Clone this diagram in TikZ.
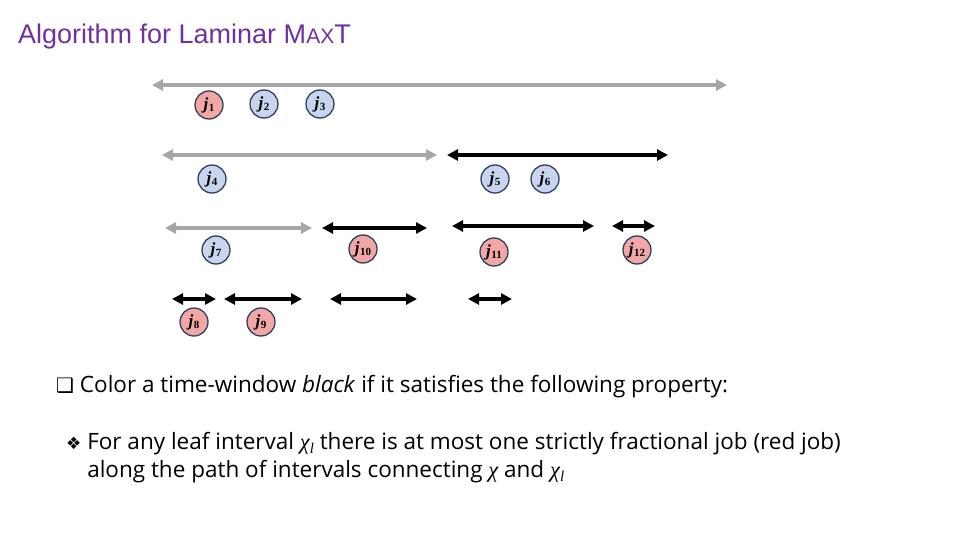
\documentclass[tikz,border=0pt]{standalone}
\usepackage{fontspec}
\setmainfont{Open Sans}
\newfontfamily\titlefont{Liberation Sans}
\newfontfamily\symfont{DejaVu Sans}
\newfontfamily\mfont{Liberation Serif}
\usetikzlibrary{arrows.meta}
\definecolor{ttl}{HTML}{7030A0}
\definecolor{gline}{HTML}{A6A6A6}
\definecolor{jblue}{HTML}{C9D5EE}
\definecolor{jred}{HTML}{F2A6A6}
\definecolor{jedge}{HTML}{2F4060}
\newcommand{\jl}[1]{{\mfont\bfseries\itshape j\kern0.5pt\raisebox{-0.35ex}{\fontsize{11}{11}\selectfont\upshape #1}}}
\newcommand{\chil}[1]{{\mfont\itshape χ\raisebox{-0.35ex}{\fontsize{15}{15}\selectfont #1}}}
\tikzset{
  win/.style={line width=3.5pt,{Triangle[length=11pt,width=11pt]}-{Triangle[length=11pt,width=11pt]}},
  gwin/.style={win,draw=gline},
  bwin/.style={win,draw=black},
  job/.style={circle,draw=jedge,line width=1.3pt,minimum size=28pt,inner sep=0pt,font=\fontsize{17}{17}\selectfont},
  bj/.style={job,fill=jblue},
  rj/.style={job,fill=jred},
  body/.style={anchor=west,font=\fontsize{22.5}{28}\selectfont,inner sep=0pt}
}
\begin{document}
\begin{tikzpicture}[x=1pt,y=-1pt]
\useasboundingbox (0,0) rectangle (960,540);
\node[anchor=west,inner sep=0pt,text=ttl,font=\titlefont\fontsize{27}{27}\selectfont] (title) at (18,37) {Algorithm for Laminar M{\fontsize{21}{21}\selectfont AX}T};
% windows
\coordinate (a1) at (152,85); \coordinate (b1) at (727,85);
\draw[gwin] (a1) -- (b1);
\coordinate (a2) at (162,155); \coordinate (b2) at (437,155);
\draw[gwin] (a2) -- (b2);
\coordinate (a3) at (447,155); \coordinate (b3) at (668,155);
\draw[bwin] (a3) -- (b3);
\coordinate (a4) at (165,228); \coordinate (b4) at (312,228);
\draw[gwin] (a4) -- (b4);
\coordinate (a5) at (322,228); \coordinate (b5) at (427,228);
\draw[bwin] (a5) -- (b5);
\coordinate (a6) at (452,226); \coordinate (b6) at (594,226);
\draw[bwin] (a6) -- (b6);
\coordinate (a7) at (612,226); \coordinate (b7) at (655,226);
\draw[bwin] (a7) -- (b7);
\coordinate (a8) at (172,299); \coordinate (b8) at (216,299);
\draw[bwin] (a8) -- (b8);
\coordinate (a9) at (224,299); \coordinate (b9) at (302,299);
\draw[bwin] (a9) -- (b9);
\coordinate (a10) at (330,299); \coordinate (b10) at (417,299);
\draw[bwin] (a10) -- (b10);
\coordinate (a11) at (468,299); \coordinate (b11) at (512,299);
\draw[bwin] (a11) -- (b11);
% jobs
\node[rj] (j1) at (209,105) {\jl{1}};
\node[bj] (j2) at (264,104) {\jl{2}};
\node[bj] (j3) at (320,104) {\jl{3}};
\node[bj] (j4) at (212,179) {\jl{4}};
\node[bj] (j5) at (495,179) {\jl{5}};
\node[bj] (j6) at (545,179) {\jl{6}};
\node[bj] (j7) at (216,250) {\jl{7}};
\node[rj] (j10) at (363,249) {\jl{10}};
\node[rj] (j11) at (494,252) {\jl{11}};
\node[rj] (j12) at (637,250) {\jl{12}};
\node[rj] (j8) at (194,322) {\jl{8}};
\node[rj] (j9) at (261,322) {\jl{9}};
% text
\node[body] (t1) at (56,387) {{\symfont\fontsize{20}{20}\selectfont ❑} Color a time-window \textit{black} if it satisfies the following property:};
\node[body,align=left] (t2) at (66,458) {{\symfont\fontsize{17}{17}\selectfont ❖} For any leaf interval \chil{l} there is at most one strictly fractional job (red job)\\
\hphantom{{\symfont\fontsize{17}{17}\selectfont ❖} }along the path of intervals connecting {\mfont\itshape χ} and \chil{l}};
\end{tikzpicture}
\end{document}
